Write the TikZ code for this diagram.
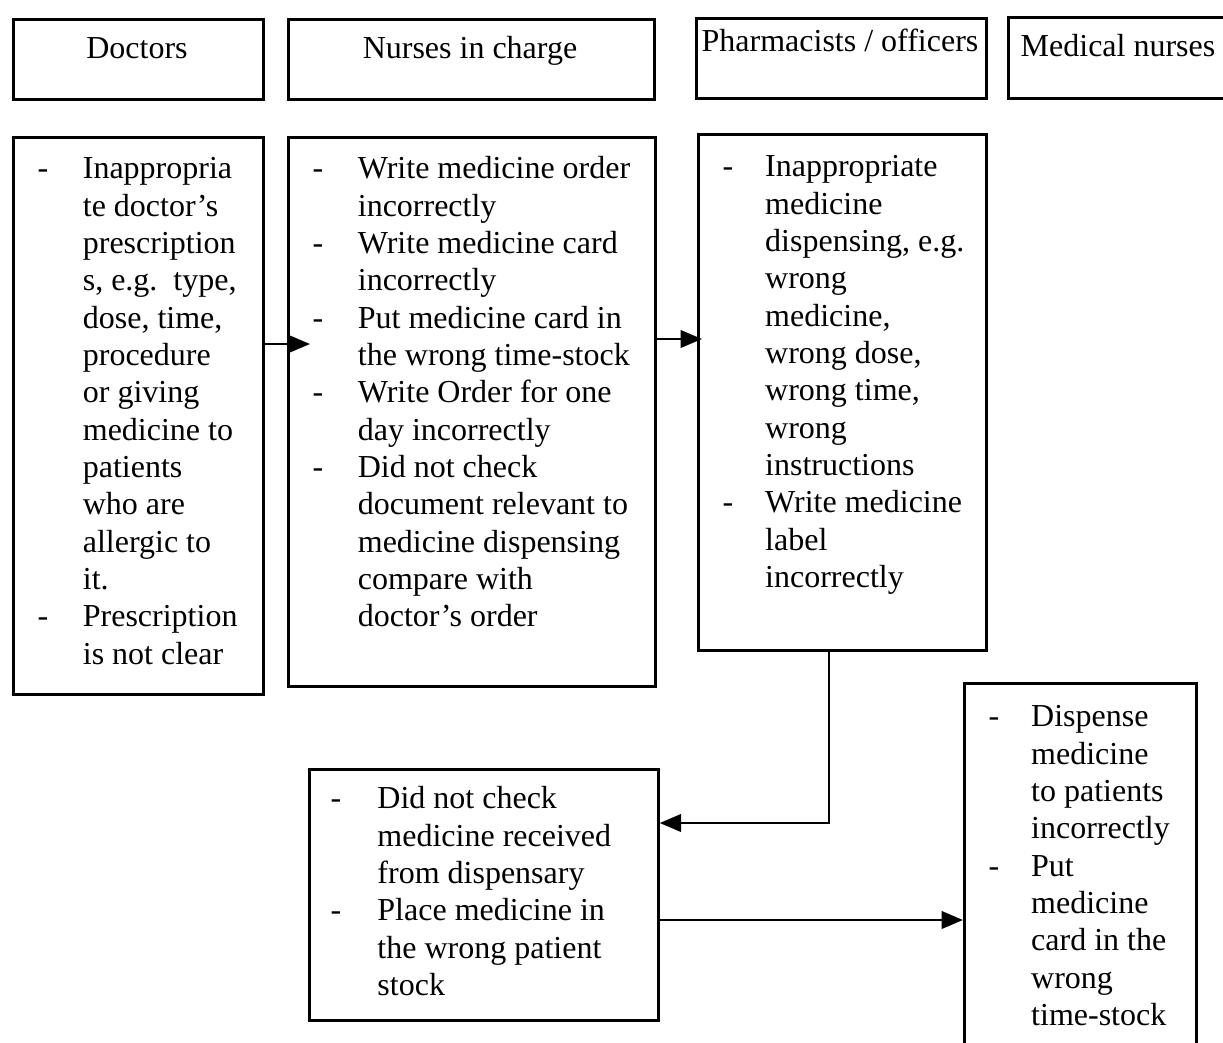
\documentclass[tikz,border=0pt]{standalone}
\usepackage{fontspec}
\setmainfont{Liberation Serif}
\usetikzlibrary{arrows.meta}

\begin{document}
\begin{tikzpicture}[x=0.375pt,y=-0.375pt,
        font=\fontsize{12}{14}\selectfont,
        box/.style 2 args={draw, line width=1pt, anchor=north west, inner sep=0pt,
            minimum width=#1*0.375pt, minimum height=#2*0.375pt},
        head/.style={anchor=base, inner sep=0pt},
        items/.style={anchor=north west, inner sep=0pt},
        flow/.style={-{Triangle[length=8pt,width=6.5pt]}, line width=1pt}]
        % Page size of the picture
        \useasboundingbox (0,0) rectangle (1223,1042);
        % Header boxes
        \node[box={250}{80}] (doc) at (12,18) {};
        \node[box={366}{80}] (nic) at (287,18) {};
        \node[box={290}{80}] (pha) at (695,17) {};
        \node[box={240}{81}] (med) at (1007,16) {};
        \node[head] (doclbl) at (137,58) {Doctors};
        \node[head] (niclbl) at (470,58) {Nurses in charge};
        \node[head] (phalbl) at (840,52) {Pharmacists / officers};
        \node[head] (medlbl) at (1118,56) {Medical nurses};
        % Error boxes
        \node[box={250}{557}] (docerr) at (12,136) {};
        \node[box={367}{549}] (nicerr) at (287,136) {};
        \node[box={288}{516}] (phaerr) at (697,133) {};
        \node[box={349}{251}] (warderr) at (308,768) {};
        \node[box={232}{420}] (mederr) at (963,682) {};
        % Texts in the error boxes
        \node[items] (docitems) at ([shift={(25,16)}]docerr.north west) {%
            \begin{tabular}{@{}p{17pt}@{}l@{}}
                - & Inappropria \\
                  & te doctor’s \\
                  & prescription \\
                  & s, e.g.\ \ type, \\
                  & dose, time, \\
                  & procedure \\
                  & or giving \\
                  & medicine to \\
                  & patients \\
                  & who are \\
                  & allergic to \\
                  & it. \\
                - & Prescription \\
                  & is not clear
            \end{tabular}};
        \node[items] (nicitems) at ([shift={(25,16)}]nicerr.north west) {%
            \begin{tabular}{@{}p{17pt}@{}l@{}}
                - & Write medicine order \\
                  & incorrectly \\
                - & Write medicine card \\
                  & incorrectly \\
                - & Put medicine card in \\
                  & the wrong time-stock \\
                - & Write Order for one \\
                  & day incorrectly \\
                - & Did not check \\
                  & document relevant to \\
                  & medicine dispensing \\
                  & compare with \\
                  & doctor’s order
            \end{tabular}};
        \node[items] (phaitems) at ([shift={(25,17)}]phaerr.north west) {%
            \begin{tabular}{@{}p{16pt}@{}l@{}}
                - & Inappropriate \\
                  & medicine \\
                  & dispensing, e.g. \\
                  & wrong \\
                  & medicine, \\
                  & wrong dose, \\
                  & wrong time, \\
                  & wrong \\
                  & instructions \\
                - & Write medicine \\
                  & label \\
                  & incorrectly
            \end{tabular}};
        \node[items] (warditems) at ([shift={(22,14)}]warderr.north west) {%
            \begin{tabular}{@{}p{17.6pt}@{}l@{}}
                - & Did not check \\
                  & medicine received \\
                  & from dispensary \\
                - & Place medicine in \\
                  & the wrong patient \\
                  & stock
            \end{tabular}};
        \node[items] (meditems) at ([shift={(25,18)}]mederr.north west) {%
            \begin{tabular}{@{}p{16pt}@{}l@{}}
                - & Dispense \\
                  & medicine \\
                  & to patients \\
                  & incorrectly \\
                - & Put \\
                  & medicine \\
                  & card in the \\
                  & wrong \\
                  & time-stock
            \end{tabular}};
        % Arrows between the boxes
        \coordinate (a1) at (310,344);
        \coordinate (a2) at (702,339);
        \coordinate (a3) at (829,823);
        \coordinate (a4) at (963,920);
        \draw[flow] (docerr.east |- a1) -- (a1);
        \draw[flow] (nicerr.east |- a2) -- (a2);
        \draw[flow] (phaerr.south -| a3) -- (a3) -- (warderr.east |- a3);
        \draw[flow] (warderr.east |- a4) -- (a4);
    \end{tikzpicture}
\end{document}
